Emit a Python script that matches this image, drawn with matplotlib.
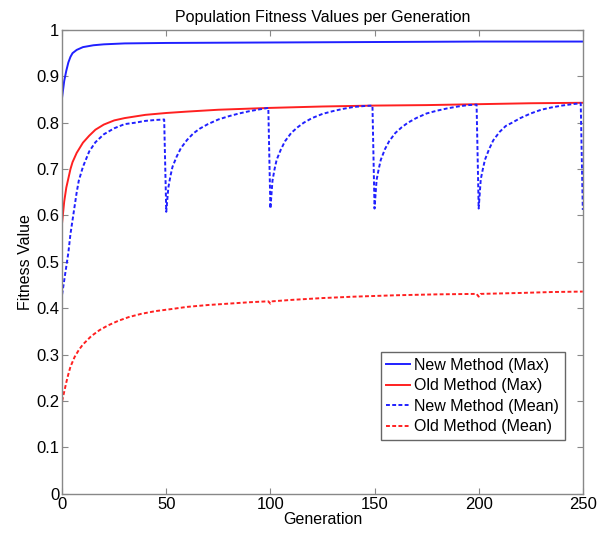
import matplotlib
matplotlib.use("Agg")
import matplotlib.pyplot as plt
from matplotlib.ticker import FuncFormatter

plt.rcParams['font.family'] = ['Liberation Sans', 'DejaVu Sans']

# New Method (Max)
new_max_gen = [0, 1, 2, 3, 4, 5, 7, 10, 15, 20, 30, 50, 100, 150, 200, 250]
new_max_val = [0.855, 0.89, 0.912, 0.93, 0.942, 0.95, 0.957, 0.963, 0.967, 0.969,
               0.971, 0.972, 0.973, 0.974, 0.975, 0.975]

# Old Method (Max)
old_max_gen = [0, 1, 2, 3, 4, 5, 7, 10, 13, 16, 20, 25, 30, 40, 50, 60, 75, 100,
               125, 150, 175, 200, 225, 250]
old_max_val = [0.585, 0.63, 0.66, 0.68, 0.70, 0.715, 0.735, 0.757, 0.772, 0.785, 0.796,
               0.805, 0.81, 0.817, 0.821, 0.824, 0.828, 0.832, 0.835, 0.837, 0.838,
               0.840, 0.842, 0.843]

# New Method (Mean) - population reset every 50 generations
new_mean_gen = [0, 1, 2, 3, 4, 5, 7, 8, 10, 13, 16, 20, 25, 30, 35, 40, 45, 49,
                50, 51, 52, 53, 55, 57, 60, 63, 66, 70, 75, 80, 85, 90, 95, 99,
                100, 101, 102, 103, 105, 107, 110, 113, 116, 120, 125, 130, 135, 140, 145, 149,
                150, 151, 152, 153, 155, 157, 160, 163, 166, 170, 175, 180, 185, 190, 195, 199,
                200, 201, 202, 203, 205, 207, 210, 213, 216, 220, 225, 230, 235, 240, 245, 249,
                250]
new_mean_val = [0.43, 0.46, 0.49, 0.52, 0.56, 0.59, 0.65, 0.675, 0.705, 0.738, 0.758, 0.775,
                0.788, 0.797, 0.80, 0.804, 0.806, 0.807,
                0.608, 0.66, 0.685, 0.705, 0.727, 0.745, 0.763, 0.777, 0.787, 0.797, 0.807,
                0.814, 0.82, 0.825, 0.829, 0.832,
                0.615, 0.675, 0.70, 0.72, 0.742, 0.76, 0.778, 0.79, 0.80, 0.81, 0.819, 0.825,
                0.83, 0.834, 0.836, 0.837,
                0.615, 0.677, 0.70, 0.72, 0.743, 0.76, 0.778, 0.79, 0.80, 0.81, 0.82, 0.826,
                0.831, 0.835, 0.838, 0.839,
                0.615, 0.678, 0.70, 0.72, 0.743, 0.762, 0.78, 0.793, 0.80, 0.81, 0.82, 0.828,
                0.833, 0.837, 0.84, 0.842,
                0.612]

# Old Method (Mean)
old_mean_gen = [0, 1, 2, 3, 4, 6, 8, 10, 14, 18, 22, 27, 32, 38, 45, 52, 60, 70, 80, 90,
                99, 100, 101, 110, 125, 140, 160, 180, 199, 200, 201, 220, 235, 250]
old_mean_val = [0.20, 0.22, 0.24, 0.258, 0.274, 0.295, 0.31, 0.322, 0.34, 0.353, 0.363,
                0.373, 0.381, 0.388, 0.394, 0.398, 0.403, 0.407, 0.41, 0.413, 0.415, 0.41,
                0.415, 0.418, 0.422, 0.425, 0.428, 0.43, 0.431, 0.425, 0.431, 0.433, 0.435,
                0.436]

fig = plt.figure(figsize=(6.09, 5.35), dpi=100)
ax = fig.add_axes([0.102, 0.077, 0.855, 0.867])

ax.plot(new_max_gen, new_max_val, color='#2020ff', lw=1.4, label='New Method (Max)')
ax.plot(old_max_gen, old_max_val, color='#ff2020', lw=1.4, label='Old Method (Max)')
ax.plot(new_mean_gen, new_mean_val, color='#2020ff', lw=1.4, ls=(0, (2, 1.2)),
        label='New Method (Mean)')
ax.plot(old_mean_gen, old_mean_val, color='#ff2020', lw=1.4, ls=(0, (2, 1.2)),
        label='Old Method (Mean)')

ax.set_xlim(0, 250)
ax.set_ylim(0, 1)
ax.set_xticks(range(0, 251, 50))
ax.set_yticks([i / 10 for i in range(11)])
ax.yaxis.set_major_formatter(FuncFormatter(lambda v, p: '%g' % round(v, 1)))
ax.tick_params(direction='in', top=True, right=True, length=4, width=0.8,
               color='#888888', labelsize=12, pad=2)
for s in ax.spines.values():
    s.set_color('#888888')
    s.set_linewidth(1.0)

ax.set_title('Population Fitness Values per Generation', fontsize=11.5, pad=6)
ax.set_xlabel('Generation', fontsize=11.5, labelpad=0)
ax.set_ylabel('Fitness Value', fontsize=11.5, labelpad=2)

leg = ax.legend(loc='lower right', bbox_to_anchor=(0.965, 0.116), fontsize=11.5,
                handlelength=1.5, handletextpad=0.25, borderpad=0.35, labelspacing=0.35,
                borderaxespad=0, fancybox=False, framealpha=1)
leg.get_frame().set_edgecolor('#666666')
leg.get_frame().set_linewidth(1.0)

fig.savefig('out.png', dpi=100)
